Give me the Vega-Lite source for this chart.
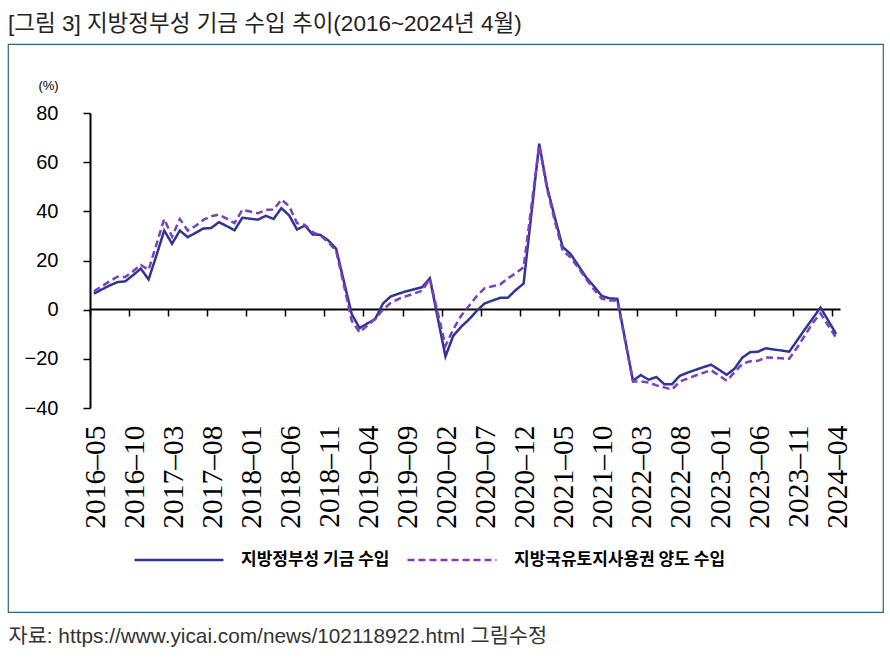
{
  "$schema": "https://vega.github.io/schema/vega-lite/v6.json",
  "width": 875,
  "height": 568,
  "autosize": "none",
  "padding": {"left": 8, "top": 44, "right": 7, "bottom": 46},
  "background": "white",
  "title": {
    "text": "[그림 3] 지방정부성 기금 수입 추이(2016~2024년 4월)",
    "anchor": "start",
    "frame": "group",
    "font": "Liberation Sans, Noto Sans CJK KR",
    "fontSize": 22.5,
    "fontWeight": "normal",
    "color": "#222222",
    "offset": 9
  },
  "data": {
    "values": [
      {"month": "2016-05", "fund": 6.5, "land": 7.5},
      {"month": "2016-06", "fund": 8.2, "land": 9.5},
      {"month": "2016-07", "fund": 9.8, "land": 11.5},
      {"month": "2016-08", "fund": 11.2, "land": 13.4},
      {"month": "2016-09", "fund": 11.5, "land": 13.3},
      {"month": "2016-10", "fund": 14, "land": 15.6},
      {"month": "2016-11", "fund": 16.7, "land": 18.2},
      {"month": "2016-12", "fund": 12.3, "land": 16.2},
      {"month": "2017-01", "fund": 22, "land": 26.5},
      {"month": "2017-02", "fund": 32.2, "land": 36.9},
      {"month": "2017-03", "fund": 26.8, "land": 29.7},
      {"month": "2017-04", "fund": 32.2, "land": 36.9},
      {"month": "2017-05", "fund": 29.5, "land": 32.2},
      {"month": "2017-06", "fund": 31.2, "land": 34},
      {"month": "2017-07", "fund": 33, "land": 36.5},
      {"month": "2017-08", "fund": 33.2, "land": 38},
      {"month": "2017-09", "fund": 35.6, "land": 38.7},
      {"month": "2017-10", "fund": 34, "land": 37},
      {"month": "2017-11", "fund": 32.3, "land": 35.2},
      {"month": "2017-12", "fund": 37.4, "land": 40.6},
      {"month": "2018-01", "fund": 37, "land": 39.9},
      {"month": "2018-02", "fund": 36.6, "land": 39.2},
      {"month": "2018-03", "fund": 38.2, "land": 40.6},
      {"month": "2018-04", "fund": 36.9, "land": 40.7},
      {"month": "2018-05", "fund": 41.3, "land": 44.8},
      {"month": "2018-06", "fund": 38.3, "land": 42},
      {"month": "2018-07", "fund": 32.6, "land": 35.2},
      {"month": "2018-08", "fund": 34.2, "land": 34.5},
      {"month": "2018-09", "fund": 30.6, "land": 31.5},
      {"month": "2018-10", "fund": 30.4, "land": 30.1},
      {"month": "2018-11", "fund": 28.2, "land": 27.4},
      {"month": "2018-12", "fund": 24.8, "land": 24},
      {"month": "2019-01", "fund": 11.5, "land": 10},
      {"month": "2019-02", "fund": -1.8, "land": -4.5},
      {"month": "2019-03", "fund": -7.5, "land": -9.2},
      {"month": "2019-04", "fund": -5.6, "land": -6.5},
      {"month": "2019-05", "fund": -3.8, "land": -3.8},
      {"month": "2019-06", "fund": 2.5, "land": 0},
      {"month": "2019-07", "fund": 5.4, "land": 2.8},
      {"month": "2019-08", "fund": 6.5, "land": 4.4},
      {"month": "2019-09", "fund": 7.5, "land": 5.5},
      {"month": "2019-10", "fund": 8.3, "land": 6.6},
      {"month": "2019-11", "fund": 9.1, "land": 7.7},
      {"month": "2019-12", "fund": 12.8, "land": 12.5},
      {"month": "2020-01", "fund": -3.2, "land": -1},
      {"month": "2020-02", "fund": -19, "land": -14.7},
      {"month": "2020-03", "fund": -10.6, "land": -8},
      {"month": "2020-04", "fund": -7, "land": -2.5},
      {"month": "2020-05", "fund": -4, "land": 1.5},
      {"month": "2020-06", "fund": -0.5, "land": 5.5},
      {"month": "2020-07", "fund": 2.5, "land": 8.7},
      {"month": "2020-08", "fund": 3.7, "land": 9.5},
      {"month": "2020-09", "fund": 4.8, "land": 10.2},
      {"month": "2020-10", "fund": 4.9, "land": 12.8},
      {"month": "2020-11", "fund": 8, "land": 14.8},
      {"month": "2020-12", "fund": 10.6, "land": 17.2},
      {"month": "2021-01", "fund": 39, "land": 42},
      {"month": "2021-02", "fund": 67.5, "land": 66.8},
      {"month": "2021-03", "fund": 50, "land": 49.2},
      {"month": "2021-04", "fund": 37.5, "land": 36},
      {"month": "2021-05", "fund": 25.5, "land": 24},
      {"month": "2021-06", "fund": 22.7, "land": 21.3},
      {"month": "2021-07", "fund": 18, "land": 17},
      {"month": "2021-08", "fund": 13.2, "land": 12.5},
      {"month": "2021-09", "fund": 9.5, "land": 8.3},
      {"month": "2021-10", "fund": 5.6, "land": 4.5},
      {"month": "2021-11", "fund": 4.6, "land": 3.7},
      {"month": "2021-12", "fund": 4.4, "land": 3.7},
      {"month": "2022-01", "fund": -12.2, "land": -12.7},
      {"month": "2022-02", "fund": -28.9, "land": -29.2},
      {"month": "2022-03", "fund": -26.6, "land": -29.2},
      {"month": "2022-04", "fund": -28.5, "land": -29.6},
      {"month": "2022-05", "fund": -27.4, "land": -30.8},
      {"month": "2022-06", "fund": -30.3, "land": -31.6},
      {"month": "2022-07", "fund": -30.3, "land": -32.5},
      {"month": "2022-08", "fund": -26.9, "land": -29.2},
      {"month": "2022-09", "fund": -25.6, "land": -28},
      {"month": "2022-10", "fund": -24.5, "land": -26.8},
      {"month": "2022-11", "fund": -23.4, "land": -25.7},
      {"month": "2022-12", "fund": -22.4, "land": -24.6},
      {"month": "2023-01", "fund": -24.4, "land": -26.7},
      {"month": "2023-02", "fund": -26.5, "land": -28.9},
      {"month": "2023-03", "fund": -24, "land": -25.5},
      {"month": "2023-04", "fund": -19.5, "land": -22},
      {"month": "2023-05", "fund": -17.3, "land": -21},
      {"month": "2023-06", "fund": -17.1, "land": -20.8},
      {"month": "2023-07", "fund": -15.7, "land": -19.4},
      {"month": "2023-08", "fund": -16.2, "land": -19.6},
      {"month": "2023-09", "fund": -16.6, "land": -19.8},
      {"month": "2023-10", "fund": -17.1, "land": -20},
      {"month": "2023-11", "fund": -12.6, "land": -15.5},
      {"month": "2023-12", "fund": -8, "land": -10.5},
      {"month": "2024-01", "fund": -3.6, "land": -5.5},
      {"month": "2024-02", "fund": 0.9, "land": -1.5},
      {"month": "2024-03", "fund": -4.5, "land": -6.5},
      {"month": "2024-04", "fund": -9.9, "land": -11.3}
    ]
  },
  "transform": [
    {"fold": ["fund", "land"], "as": ["series", "value"]}
  ],
  "mark": {"type": "line", "strokeWidth": 2.5},
  "encoding": {
    "x": {
      "field": "month",
      "type": "ordinal",
      "sort": null,
      "scale": {"type": "point", "padding": 0.5, "range": [82, 832]},
      "axis": {
        "title": "자료: https://www.yicai.com/news/102118922.html 그림수정",
        "titleX": 0,
        "titleY": 327,
        "titleAlign": "left",
        "titleAnchor": null,
        "titleBaseline": "middle",
        "titleFont": "Liberation Sans, Noto Sans CJK KR",
        "titleFontSize": 20.8,
        "titleFontWeight": "normal",
        "titleColor": "#333333",
        "values": ["2016-05", "2016-10", "2017-03", "2017-08", "2018-01", "2018-06", "2018-11", "2019-04", "2019-09", "2020-02", "2020-07", "2020-12", "2021-05", "2021-10", "2022-03", "2022-08", "2023-01", "2023-06", "2023-11", "2024-04"],
        "labelExpr": "replace(datum.label, '-', '–')",
        "offset": -303,
        "domainColor": "black",
        "domainWidth": 2,
        "tickColor": "black",
        "tickSize": 7,
        "tickWidth": 1.5,
        "tickOffset": -3.9,
        "labelOffset": 5,
        "labelAngle": 270,
        "labelAlign": "right",
        "labelBaseline": "middle",
        "labelPadding": 109,
        "labelFont": "Liberation Sans Narrow",
        "labelFontSize": 29.5,
        "labelColor": "black",
        "labelOverlap": false,
        "labelBound": false,
        "grid": false
      }
    },
    "y": {
      "field": "value",
      "type": "quantitative",
      "scale": {"domain": [-40, 80], "range": [364, 69], "nice": false, "zero": false},
      "axis": {
        "title": "(%)",
        "titleAngle": 0,
        "titleX": -42,
        "titleY": 41,
        "titleAlign": "center",
        "titleBaseline": "middle",
        "titleFont": "Liberation Sans",
        "titleFontSize": 13,
        "titleFontWeight": "normal",
        "titleColor": "black",
        "values": [-40, -20, 0, 20, 40, 60, 80],
        "offset": -82,
        "domainColor": "black",
        "domainWidth": 2,
        "tickColor": "black",
        "tickSize": 7,
        "tickWidth": 1.5,
        "labelFont": "Liberation Sans",
        "labelFontSize": 20,
        "labelColor": "black",
        "labelPadding": 25,
        "grid": false
      }
    },
    "color": {
      "field": "series",
      "type": "nominal",
      "scale": {"domain": ["fund", "land"], "range": ["#2e3592", "#7b40bd"]},
      "legend": {
        "title": null,
        "labelExpr": "datum.label == 'fund' ? '지방정부성 기금 수입' : '지방국유토지사용권 양도 수입'"
      }
    },
    "strokeDash": {
      "field": "series",
      "type": "nominal",
      "scale": {"domain": ["fund", "land"], "range": [[1, 0], [7, 4]]},
      "legend": {
        "title": null,
        "labelExpr": "datum.label == 'fund' ? '지방정부성 기금 수입' : '지방국유토지사용권 양도 수입'"
      }
    }
  },
  "config": {
    "view": {"stroke": "#2a6489", "strokeWidth": 1.2, "fill": "white"},
    "legend": {
      "orient": "none",
      "legendX": 125,
      "legendY": 470,
      "direction": "horizontal",
      "symbolType": "stroke",
      "symbolSize": 7921,
      "symbolStrokeWidth": 2.5,
      "labelFont": "Noto Sans CJK KR",
      "labelFontSize": 17,
      "labelFontWeight": "bold",
      "labelColor": "black",
      "labelOffset": 16,
      "columnPadding": 12,
      "padding": 0,
      "labelLimit": 400
    }
  }
}
